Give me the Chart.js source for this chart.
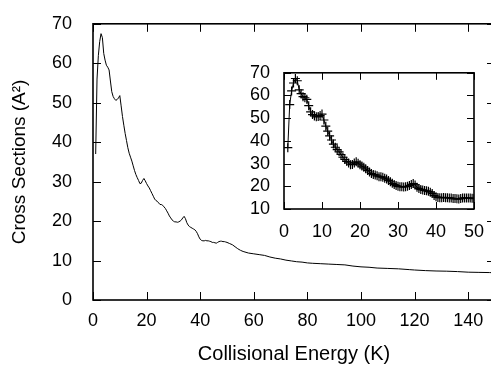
<!DOCTYPE html>
<html>
<head>
<meta charset="utf-8">
<script src="https://cdn.jsdelivr.net/npm/chart.js@4/dist/chart.umd.min.js"></script>
<style>
html,body{margin:0;padding:0;background:#fff;width:491px;height:368px;overflow:hidden;}
#wrap{position:relative;width:491px;height:368px;overflow:hidden;}
#main{position:absolute;left:0;top:0;}
#inset{position:absolute;left:244px;top:56px;}
</style>
</head>
<body>
<div id="wrap">
<canvas id="main" width="500" height="368"></canvas>
<canvas id="inset" width="250" height="200"></canvas>
</div>
<script>
// Collisional energy (K)
const energy = [
  1.0,1.5,2.0,2.5,3.0,3.5,4.0,4.5,5.0,5.5,6.0,6.5,7.0,7.5,8.0,8.5,9.0,9.5,10.0,10.5,
  11.0,11.5,12.0,12.5,13.0,13.5,14.0,14.5,15.0,15.5,16.0,16.5,17.0,17.5,18.0,18.5,19.0,19.5,20.0,20.5,
  21.0,21.5,22.0,22.5,23.0,23.5,24.0,24.5,25.0,25.5,26.0,26.5,27.0,27.5,28.0,28.5,29.0,29.5,30.0,30.5,
  31.0,31.5,32.0,32.5,33.0,33.5,34.0,34.5,35.0,35.5,36.0,36.5,37.0,37.5,38.0,38.5,39.0,39.5,40.0,40.5,
  41.0,41.5,42.0,42.5,43.0,43.5,44.0,44.5,45.0,45.5,46.0,46.5,47.0,47.5,48.0,48.5,49.0,49.5,50.0,
  51,52,53,54,55,56,58,60,62,64,66,68,70,72,74,76,78,80,82,85,88,91,94,97,100,103,106,110,114,118,
  120,124,128,132,136,140,144,148,150
];
// Cross sections (A^2)
const crossSection = [
  37,56,62,65.5,67.5,66.5,62.5,60.8,59.5,59,58.3,55.5,52.8,51.6,51,50.6,50.8,51.2,51.8,49.2,
  46.5,44.3,42.2,40.4,38.6,37.2,36.2,35.2,34,32.8,31.8,31,30.3,29.5,29.6,30.3,30.8,30.2,29.5,28.9,
  28.4,27.7,27,26.3,25.6,25.2,25,24.6,24.2,24.2,24,23.6,23.2,22.6,22,21.3,20.8,20.3,20,19.8,
  19.8,19.7,19.8,20,20.3,20.8,21.2,20.6,19.6,19,18.6,18.4,18.2,18,17.8,17.4,16.8,16,15.4,15.1,
  15,15,15.1,15,15,14.9,14.8,14.6,14.6,14.5,14.4,14.6,14.8,14.9,14.9,14.8,14.8,14.7,14.6,
  14.3,14,13.5,13,12.6,12.3,11.9,11.7,11.5,11.3,10.9,10.6,10.4,10.1,9.9,9.7,9.6,9.4,9.3,9.2,9.1,9.0,8.9,8.6,8.4,8.3,8.1,8.0,7.9,7.7,
  7.6,7.45,7.35,7.3,7.2,7.05,7.0,6.95,6.9
];
const mainXTicks = [0,20,40,60,80,100,120,140];
const mainYTicks = [0,10,20,30,40,50,60,70];
const insetXTicks = [0,10,20,30,40,50];
const insetYTicks = [10,20,30,40,50,60,70];
const xTitle = 'Collisional Energy (K)';
const yTitle = 'Cross Sections (A\u00B2)';

const FONT = "'Liberation Sans', Arial, Helvetica, sans-serif";
const allPts = energy.map((e,i)=>({x:e,y:crossSection[i]}));
const insetPts = allPts.filter(p=>p.x<=50.5);

const frameTicks = {
  id:'frameTicks',
  afterDatasetsDraw(chart, args, opts){
    const {ctx, chartArea:{left,right,top,bottom}} = chart;
    const xs = chart.scales.x, ys = chart.scales.y;
    ctx.save();
    ctx.strokeStyle = '#000';
    ctx.lineWidth = 1;
    ctx.beginPath();
    xs.ticks.forEach(t=>{
      const p = Math.round(xs.getPixelForValue(t.value))+0.5;
      ctx.moveTo(p,bottom); ctx.lineTo(p,bottom-opts.len);
      ctx.moveTo(p,top); ctx.lineTo(p,top+opts.len);
    });
    ys.ticks.forEach(t=>{
      const p = Math.round(ys.getPixelForValue(t.value))+0.5;
      ctx.moveTo(left,p); ctx.lineTo(left+opts.len,p);
      ctx.moveTo(right,p); ctx.lineTo(right-opts.len,p);
    });
    ctx.stroke();
    ctx.lineWidth = 1.6;
    ctx.strokeRect(left,top,right-left,bottom-top);
    ctx.restore();
  }
};

function tickCb(list){ return function(v){ return list.includes(v) ? String(v) : ''; }; }

new Chart(document.getElementById('main'), {
  type:'scatter',
  data:{datasets:[{data:allPts, showLine:true, borderColor:'#000', borderWidth:1, pointRadius:0, tension:0}]},
  options:{
    responsive:false, animation:false, events:[],
    layout:{padding:{top:11,right:5,left:0,bottom:0}},
    plugins:{legend:{display:false}, tooltip:{enabled:false}, frameTicks:{len:8}},
    scales:{
      x:{type:'linear', min:0, max:150,
        grid:{display:false}, border:{display:false},
        ticks:{stepSize:20, includeBounds:false, autoSkip:false, padding:2, maxRotation:0, color:'#000', font:{family:FONT,size:18}, callback:tickCb(mainXTicks)},
        title:{display:true, text:xTitle, color:'#000', font:{family:FONT,size:20}, padding:{top:0,bottom:2}},
        afterFit(s){ s.height = 68; }
      },
      y:{type:'linear', min:0, max:70,
        grid:{display:false}, border:{display:false},
        ticks:{stepSize:10, autoSkip:false, padding:13, color:'#000', font:{family:FONT,size:18}, callback:tickCb(mainYTicks)},
        title:{display:true, text:yTitle, color:'#000', font:{family:FONT,size:19}, padding:{top:8,bottom:0}},
        afterFit(s){ s.width = 93; }
      }
    }
  },
  plugins:[frameTicks]
});

new Chart(document.getElementById('inset'), {
  type:'scatter',
  data:{datasets:[{data:insetPts, showLine:true, borderColor:'#000', borderWidth:1,
    pointStyle:'cross', pointRadius:4.5, pointBorderWidth:1.2, pointBorderColor:'#000', tension:0}]},
  options:{
    responsive:false, animation:false, events:[],
    layout:{padding:{top:8,right:20,left:0,bottom:0}},
    plugins:{legend:{display:false}, tooltip:{enabled:false}, frameTicks:{len:7}},
    scales:{
      x:{type:'linear', min:0, max:50,
        grid:{display:false}, border:{display:false},
        ticks:{stepSize:10, autoSkip:false, padding:4, maxRotation:0, color:'#000', font:{family:FONT,size:18}, callback:tickCb(insetXTicks)},
        afterFit(s){ s.height = 47; }
      },
      y:{type:'linear', min:10, max:70,
        grid:{display:false}, border:{display:false},
        ticks:{stepSize:10, autoSkip:false, padding:6, color:'#000', font:{family:FONT,size:18}, callback:tickCb(insetYTicks)},
        afterFit(s){ s.width = 40; }
      }
    }
  },
  plugins:[frameTicks]
});
</script>
</body>
</html>
